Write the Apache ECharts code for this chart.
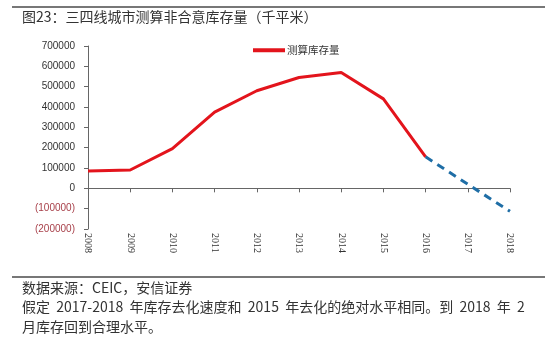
<!DOCTYPE html>
<html><head><meta charset="utf-8">
<script src="https://cdn.jsdelivr.net/npm/echarts@6/dist/echarts.min.js"></script>
<style>html,body{margin:0;padding:0;background:#fff}#c{width:550px;height:344px}</style>
</head><body><div id="c"></div>
<script>
var years = ['2008','2009','2010','2011','2012','2013','2014','2015','2016','2017','2018'];
var actual = [85000, 90000, 195000, 375000, 480000, 545000, 570000, 440000, 155000, null, null];
var projected = [null, null, null, null, null, null, null, null, 155000, 20000, -113000];
var yTicks = [-200000, 700000, 100000];
var titleText = '图23：三四线城市测算非合意库存量（千平米）';
var sourceText = '数据来源：CEIC，安信证券';
var note1 = '假定  2017-2018  年库存去化速度和  2015  年去化的绝对水平相同。到  2018  年  2';
var note2 = '月库存回到合理水平。';
var seriesName = '测算库存量';

var chart = echarts.init(document.getElementById('c'));
var cjk = '"Noto Sans CJK SC", sans-serif';
chart.setOption({
  animation: false,
  backgroundColor: '#fff',
  grid: {left: 88, right: 40, top: 46, bottom: 115},
  legend: {
    data: [seriesName], left: 248, top: 40, icon: 'rect', itemWidth: 32, itemHeight: 4,
    textStyle: {fontSize: 10.5, color: '#333', fontFamily: cjk, padding: [0,0,0,-3]}, itemGap: 4
  },
  xAxis: [{
    type: 'category', data: years, boundaryGap: false, position: 'bottom',
    axisLine: {show: false, onZero: false}, axisTick: {show: false},
    axisLabel: {rotate: -90, fontSize: 10, color: '#333', fontFamily: '"Liberation Serif", serif', margin: 4, interval: 0}
  }, {
    type: 'category', data: years, boundaryGap: false, position: 'bottom',
    axisLine: {show: true, onZero: true, lineStyle: {color: '#666', width: 1}},
    axisTick: {show: true, inside: false, length: 4, lineStyle: {color: '#666'}, interval: 0},
    axisLabel: {show: false}
  }],
  yAxis: {
    type: 'value', min: yTicks[0], max: yTicks[1], interval: yTicks[2],
    axisLine: {show: true, lineStyle: {color: '#666'}},
    axisTick: {show: true, length: 4, lineStyle: {color: '#666'}},
    splitLine: {show: false},
    axisLabel: {
      fontSize: 10, fontFamily: '"Liberation Sans", sans-serif', margin: 13,
      formatter: function(v){ return v < 0 ? '{n|(' + (-v) + ')}' : String(v); },
      color: '#333',
      rich: {n: {color: '#a8404a', fontSize: 10, fontFamily: '"Liberation Sans", sans-serif'}}
    }
  },
  series: [{
    name: seriesName, type: 'line', data: actual, xAxisIndex: 0, showSymbol: false, symbol: 'none',
    lineStyle: {color: '#e3141c', width: 3}, itemStyle: {color: '#e3141c'}
  }, {
    name: 'proj', type: 'line', data: projected, xAxisIndex: 0, showSymbol: false, symbol: 'none',
    lineStyle: {color: '#1f6ea6', width: 3, type: [8, 6]}
  }],
  graphic: [
    {type: 'line', shape: {x1: 12, y1: 7, x2: 545, y2: 7}, style: {stroke: '#777', lineWidth: 2}},
    {type: 'text', left: 22, top: 10, style: {text: titleText, fontSize: 14, fill: '#333', fontFamily: cjk}},
    {type: 'line', shape: {x1: 12, y1: 277, x2: 545, y2: 277}, style: {stroke: '#777', lineWidth: 2}},
    {type: 'text', left: 22, top: 281, style: {text: sourceText, fontSize: 14, fill: '#333', fontFamily: cjk}},
    {type: 'text', left: 22, top: 300, style: {text: note1, fontSize: 14, fill: '#333', fontFamily: cjk}},
    {type: 'text', left: 22, top: 320, style: {text: note2, fontSize: 14, fill: '#333', fontFamily: cjk}}
  ]
});
</script></body></html>
